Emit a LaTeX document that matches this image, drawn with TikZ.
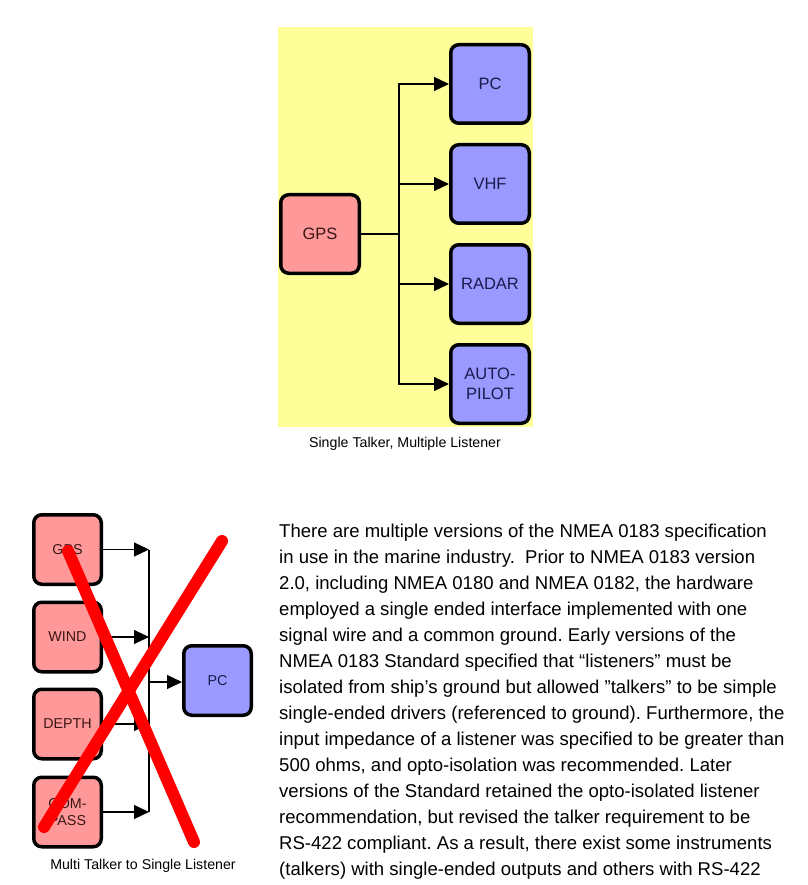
\documentclass[tikz,border=0pt]{standalone}
\usepackage{fontspec}
\setmainfont{Liberation Sans}
\usetikzlibrary{arrows.meta}
\frenchspacing
\definecolor{bgyellow}{HTML}{FFFF99}
\definecolor{talkerred}{HTML}{FF9999}
\definecolor{listenblue}{HTML}{9999FF}
\definecolor{talkertext}{HTML}{3A1515}
\definecolor{listentext}{HTML}{1A1A4D}
\tikzset{
  bigbox/.style={draw=black, line width=3.5pt, rounded corners=8pt, minimum width=78.5pt, minimum height=78.5pt, inner sep=0pt, align=center, font=\fontsize{16.5}{20}\selectfont},
  smallbox/.style={draw=black, line width=3.5pt, rounded corners=8pt, minimum width=67.5pt, minimum height=69.5pt, inner sep=0pt, align=center, font=\fontsize{14.3}{17}\selectfont},
  talker/.style={fill=talkerred, text=talkertext},
  listener/.style={fill=listenblue, text=listentext},
  wire/.style={draw=black, line width=1.1pt},
  arr/.style={wire, -{Triangle[length=15pt, width=14pt]}},
  cross/.style={draw=red, line width=12pt, line cap=round},
  caption/.style={font=\fontsize{14.2}{16}\selectfont, inner sep=0pt},
  para/.style={font=\fontsize{18.55}{20}\selectfont, anchor=west, inner sep=0pt}
}
\begin{document}
\begin{tikzpicture}[x=1pt,y=-1pt]
\useasboundingbox (0,0) rectangle (807,885);
% top diagram
\fill[bgyellow] (278,27) rectangle (533,427);
\node[bigbox,talker] (gps) at (320,234) {GPS};
\node[bigbox,listener] (pc) at (490,84) {PC};
\node[bigbox,listener] (vhf) at (490,184) {VHF};
\node[bigbox,listener] (radar) at (490,284) {RADAR};
\node[bigbox,listener] (auto) at (490,384) {AUTO-\\PILOT};
\coordinate (bus1) at (399,234);
\draw[wire] (gps.east) -- (bus1);
\draw[arr] (bus1) |- (pc.west);
\draw[arr] (bus1) |- (vhf.west);
\draw[arr] (bus1) |- (radar.west);
\draw[arr] (bus1) |- (auto.west);
\node[caption] (cap1) at (405,444) {Single Talker, Multiple Listener};
% bottom diagram
\node[smallbox,talker] (gps2) at (67.5,549.5) {GPS};
\node[smallbox,talker] (wind) at (67.5,637) {WIND};
\node[smallbox,talker] (depth) at (67.5,724) {DEPTH};
\node[smallbox,talker] (compass) at (67.5,812) {COM-\\PASS};
\node[smallbox,listener] (pc2) at (217.5,680.5) {PC};
\coordinate (bus2) at (149,682);
\draw[arr] (gps2.east) -- (gps2.east -| bus2);
\draw[arr] (wind.east) -- (wind.east -| bus2);
\draw[arr] (depth.east) -- (depth.east -| bus2);
\draw[arr] (compass.east) -- (compass.east -| bus2);
\draw[wire] (gps2.east -| bus2) -- (compass.east -| bus2);
\draw[arr] (bus2) -- (bus2 -| pc2.west);
\coordinate (xa1) at (68,551);
\coordinate (xa2) at (194,842);
\coordinate (xb1) at (222,541);
\coordinate (xb2) at (44,827);
\draw[cross] (xa1) -- (xa2);
\draw[cross] (xb1) -- (xb2);
\node[caption] (cap2) at (143,866) {Multi Talker to Single Listener};
% paragraph
\node[para] (l1) at (279,533) {There are multiple versions of the NMEA 0183 specification};
\node[para] (l2) at (279,559) {in use in the marine industry.\ \ Prior to NMEA 0183 version};
\node[para] (l3) at (279,585) {2.0, including NMEA 0180 and NMEA 0182, the hardware};
\node[para] (l4) at (279,611) {employed a single ended interface implemented with one};
\node[para] (l5) at (279,637) {signal wire and a common ground. Early versions of the};
\node[para] (l6) at (279,663) {NMEA 0183 Standard specified that “listeners” must be};
\node[para] (l7) at (279,689) {isolated from ship’s ground but allowed ”talkers” to be simple};
\node[para] (l8) at (279,715) {single-ended drivers (referenced to ground). Furthermore, the};
\node[para] (l9) at (279,741) {input impedance of a listener was specified to be greater than};
\node[para] (l10) at (279,767) {500 ohms, and opto-isolation was recommended. Later};
\node[para] (l11) at (279,793) {versions of the Standard retained the opto-isolated listener};
\node[para] (l12) at (279,819) {recommendation, but revised the talker requirement to be};
\node[para] (l13) at (279,845) {RS-422 compliant. As a result, there exist some instruments};
\node[para] (l14) at (279,871) {(talkers) with single-ended outputs and others with RS-422};
\end{tikzpicture}
\end{document}
